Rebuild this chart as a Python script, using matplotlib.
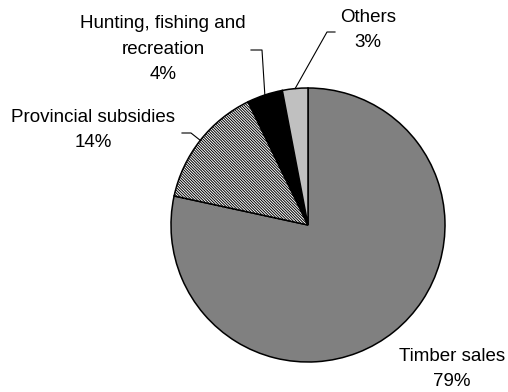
import numpy as np
import matplotlib
matplotlib.use("Agg")
import matplotlib.pyplot as plt

categories = ["Timber sales", "Provincial subsidies", "Hunting, fishing and\nrecreation", "Others"]
values = [78.4, 14.4, 4.2, 3.0]
pct_labels = ["79%", "14%", "4%", "3%"]
colors = ["#808080", "#FFFFFF", "#000000", "#C0C0C0"]
hatches = [None, "\\" * 12, None, None]

plt.rcParams['font.family'] = ['Liberation Sans', 'DejaVu Sans']
plt.rcParams['hatch.linewidth'] = 0.7

W, H = 508, 392
fig = plt.figure(figsize=(W / 100, H / 100), dpi=100)
ax = fig.add_axes([0, 0, 1, 1])

cx, cy, R = 308, H - 225, 137
wedges, _ = ax.pie(values, startangle=90, counterclock=False, colors=colors,
                   center=(cx, cy), radius=R, frame=True,
                   wedgeprops=dict(edgecolor='black', linewidth=1.1))
ax.set_xlim(0, W)
ax.set_ylim(0, H)
ax.set_aspect('equal')
ax.axis('off')
for w, h in zip(wedges, hatches):
    if h:
        w.set_hatch(h)

fs = 13.5
label_pos = [(452, H - 369), (93, H - 130), (163, H - 49), (368, H - 30)]
leaders = [None,
           [(182, H - 133), (191, H - 133)],
           [(251, H - 50), (262, H - 50)],
           [(335, H - 32), (327, H - 32)]]

for i, w in enumerate(wedges):
    ax.text(label_pos[i][0], label_pos[i][1], categories[i] + "\n" + pct_labels[i],
            ha='center', va='center', fontsize=fs, linespacing=1.66)
    if leaders[i]:
        ang = np.deg2rad((w.theta1 + w.theta2) / 2)
        ex, ey = cx + R * np.cos(ang), cy + R * np.sin(ang)
        pts = leaders[i] + [(ex, ey)]
        xs, ys = zip(*pts)
        ax.plot(xs, ys, color='black', lw=0.8)

fig.savefig("out.png", dpi=100)
